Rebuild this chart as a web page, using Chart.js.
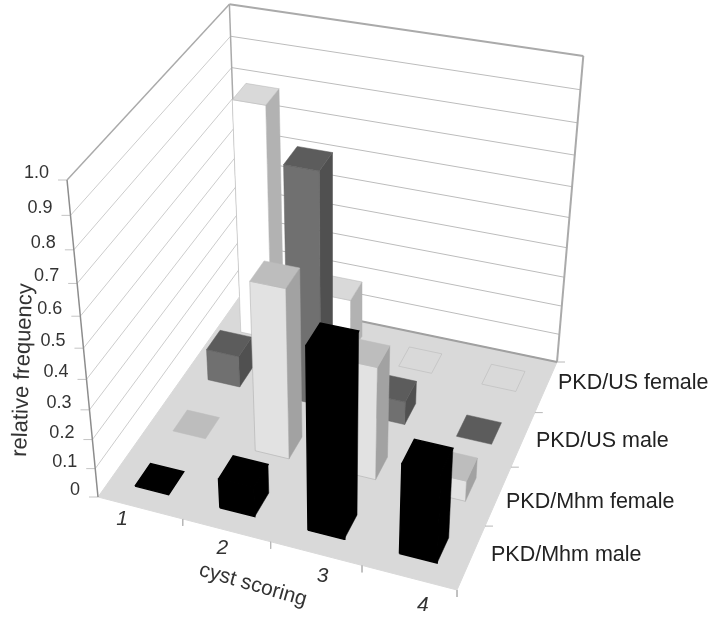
<!DOCTYPE html>
<html>
<head>
<meta charset="utf-8">
<style>
  html, body { margin: 0; padding: 0; background: #fff; }
  canvas { display: block; }
</style>
<script src="https://cdn.jsdelivr.net/npm/chart.js@4"></script>
</head>
<body>
<canvas id="chart" width="720" height="617"></canvas>
<script>
// chart values
const scores = ['1', '2', '3', '4'];
const seriesNames = ['PKD/Mhm male', 'PKD/Mhm female', 'PKD/US male', 'PKD/US female'];
const mhmMale = [0, 0.1, 0.6, 0.3];
const mhmFemale = [0, 0.57, 0.38, 0.07];
const usMale = [0.11, 0.78, 0.08, 0];
const usFemale = [0.8, 0.2, 0, 0];
const yTicks = ['0', '0.1', '0.2', '0.3', '0.4', '0.5', '0.6', '0.7', '0.8', '0.9', '1.0'];
const seriesValues = [mhmMale, mhmFemale, usMale, usFemale];

// face colours per series, front to back
const palette = [
  { front: '#000000', top: '#000000', side: '#000000', line: '#000000', width: 1.5 },
  { front: '#e2e2e2', top: '#bdbdbd', side: '#a2a2a2', line: '#a6a6a6', width: 0.5 },
  { front: '#707070', top: '#5c5c5c', side: '#505050', line: '#646464', width: 0.5 },
  { front: '#ffffff', top: '#d9d9d9', side: '#b2b2b2', line: '#b4b4b4', width: 0.5 },
];

// camera: floor corners in the picture and the point where the verticals meet
const floorA = [98, 497], floorB = [457, 590], floorC = [557, 362], floorD = [240, 296];
const vanish = [336, 2934];
const wallTopY = 180;
const barFrac = 0.4;

function floorMatrix() {
  const dx1 = floorB[0] - floorC[0], dx2 = floorD[0] - floorC[0];
  const dy1 = floorB[1] - floorC[1], dy2 = floorD[1] - floorC[1];
  const sx = floorA[0] - floorB[0] + floorC[0] - floorD[0];
  const sy = floorA[1] - floorB[1] + floorC[1] - floorD[1];
  const det = dx1 * dy2 - dx2 * dy1;
  const g = (sx * dy2 - dx2 * sy) / det;
  const h = (dx1 * sy - sx * dy1) / det;
  return {
    a: floorB[0] - floorA[0] + g * floorB[0], b: floorD[0] - floorA[0] + h * floorD[0], c: floorA[0],
    d: floorB[1] - floorA[1] + g * floorB[1], e: floorD[1] - floorA[1] + h * floorD[1], f: floorA[1],
    g, h,
  };
}
const M = floorMatrix();
const kz = (floorA[1] - wallTopY) / (wallTopY - vanish[1]);

// u: along the scores, v: along the series, z: value
function project(u, v, z) {
  const w = M.g * u + M.h * v + 1 + kz * z;
  return {
    x: (M.a * u + M.b * v + M.c + kz * z * vanish[0]) / w,
    y: (M.d * u + M.e * v + M.f + kz * z * vanish[1]) / w,
  };
}

function poly(points, fill, line, width) {
  return {
    data: points.concat([points[0]]),
    showLine: true,
    fill: fill ? 'shape' : false,
    backgroundColor: fill || 'transparent',
    borderColor: line,
    borderWidth: width,
    pointRadius: 0,
    tension: 0,
  };
}

function segment(p, q, color, width) {
  return {
    data: [p, q],
    showLine: true,
    fill: false,
    borderColor: color,
    borderWidth: width,
    pointRadius: 0,
    tension: 0,
  };
}

const datasets = [];

// floor
datasets.push(poly([project(0, 0, 0), project(1, 0, 0), project(1, 1, 0), project(0, 1, 0)], '#d9d9d9', '#d9d9d9', 1));

// gridlines on both walls
yTicks.forEach((t, i) => {
  const z = i / 10;
  if (i > 0 && i < 10) {
    datasets.push(segment(project(0, 0, z), project(0, 1, z), '#cccccc', 1));
    datasets.push(segment(project(0, 1, z), project(1, 1, z), '#bcbcbc', 1));
  }
  const p = project(0, 0, z);
  datasets.push(segment(p, { x: p.x - 9, y: p.y }, '#c4c4c4', 1));
});

// wall frame
datasets.push(segment(project(0, 0, 0), project(0, 0, 1), '#8c8c8c', 1.5));
datasets.push(segment(project(0, 0, 1), project(0, 1, 1), '#aaaaaa', 1.5));
datasets.push(segment(project(0, 1, 1), project(1, 1, 1), '#aaaaaa', 2));
datasets.push(segment(project(1, 1, 1), project(1, 1, 0), '#aaaaaa', 2));
datasets.push(segment(project(0, 1, 0), project(0, 1, 1), '#aaaaaa', 1.5));
datasets.push(segment(project(0, 1, 0), project(1, 1, 0), '#a0a0a0', 2));

// floor ticks
for (let i = 1; i <= 4; i++) {
  const p = project(i / 4, 0, 0);
  datasets.push(segment(p, { x: p.x, y: p.y + 7 }, '#b8b8b8', 1));
  const q = project(1, i / 4, 0);
  datasets.push(segment(q, { x: q.x + 8, y: q.y }, '#b8b8b8', 1));
}

// bars, back row first so nearer ones cover them
for (let s = seriesNames.length - 1; s >= 0; s--) {
  const colors = palette[s];
  scores.forEach((score, c) => {
    const value = seriesValues[s][c];
    const m = (1 - barFrac) / 2 / 4;
    const u0 = c / 4 + m, u1 = (c + 1) / 4 - m;
    const v0 = s / 4 + m, v1 = (s + 1) / 4 - m;
    if (value > 0) {
      datasets.push(poly([project(u1, v0, 0), project(u1, v1, 0), project(u1, v1, value), project(u1, v0, value)], colors.side, colors.side, 0.5));
      datasets.push(poly([project(u0, v0, 0), project(u1, v0, 0), project(u1, v0, value), project(u0, v0, value)], colors.front, colors.line, colors.width));
    }
    const topFill = value > 0 ? colors.top : (s === 3 ? '#d9d9d9' : colors.top);
    datasets.push(poly([project(u0, v0, value), project(u1, v0, value), project(u1, v1, value), project(u0, v1, value)], topFill, s === 3 ? colors.line : topFill, colors.width));
  });
}

// Chart.js paints the first dataset last
datasets.reverse();

// label anchors
const seriesLabelX = [491, 506, 536, 558];
const seriesLabelY = [555, 502, 441, 383];

const textPlugin = {
  id: 'labels3d',
  afterDraw(chart) {
    const ctx = chart.ctx;
    const xs = chart.scales.x, ys = chart.scales.y;
    const put = (text, p, opts) => {
      ctx.save();
      ctx.translate(xs.getPixelForValue(p.x), ys.getPixelForValue(p.y));
      ctx.rotate((opts.angle || 0) * Math.PI / 180);
      ctx.font = opts.font;
      ctx.fillStyle = opts.color || '#333333';
      ctx.textAlign = opts.align || 'center';
      ctx.textBaseline = 'middle';
      ctx.fillText(text, 0, 0);
      ctx.restore();
    };
    yTicks.forEach((t, i) => {
      const p = project(0, 0, i / 10);
      put(t, { x: p.x - 18, y: p.y - 7 }, { font: '18px "Liberation Sans"', align: 'right' });
    });
    scores.forEach((t, i) => {
      put(t, { x: 122 + 100.3 * i, y: 519 + 28.7 * i }, { font: 'italic 21px "Liberation Sans"' });
    });
    seriesNames.forEach((t, i) => {
      put(t, { x: seriesLabelX[i], y: seriesLabelY[i] }, { font: '21.5px "Liberation Sans"', align: 'left', color: '#222222' });
    });
    put('cyst scoring', { x: 253, y: 585 }, { font: '21px "Liberation Sans"', angle: 16 });
    put('relative frequency', { x: 23, y: 370 }, { font: '22px "Liberation Sans"', angle: -88 });
  },
};

new Chart(document.getElementById('chart'), {
  type: 'scatter',
  data: { datasets },
  options: {
    responsive: false,
    animation: false,
    events: [],
    layout: { padding: 0 },
    clip: false,
    scales: {
      x: { type: 'linear', min: 0, max: 720, display: false },
      y: { type: 'linear', min: 0, max: 617, reverse: true, display: false },
    },
    plugins: { legend: { display: false }, tooltip: { enabled: false } },
  },
  plugins: [textPlugin],
});
</script>
</body>
</html>
